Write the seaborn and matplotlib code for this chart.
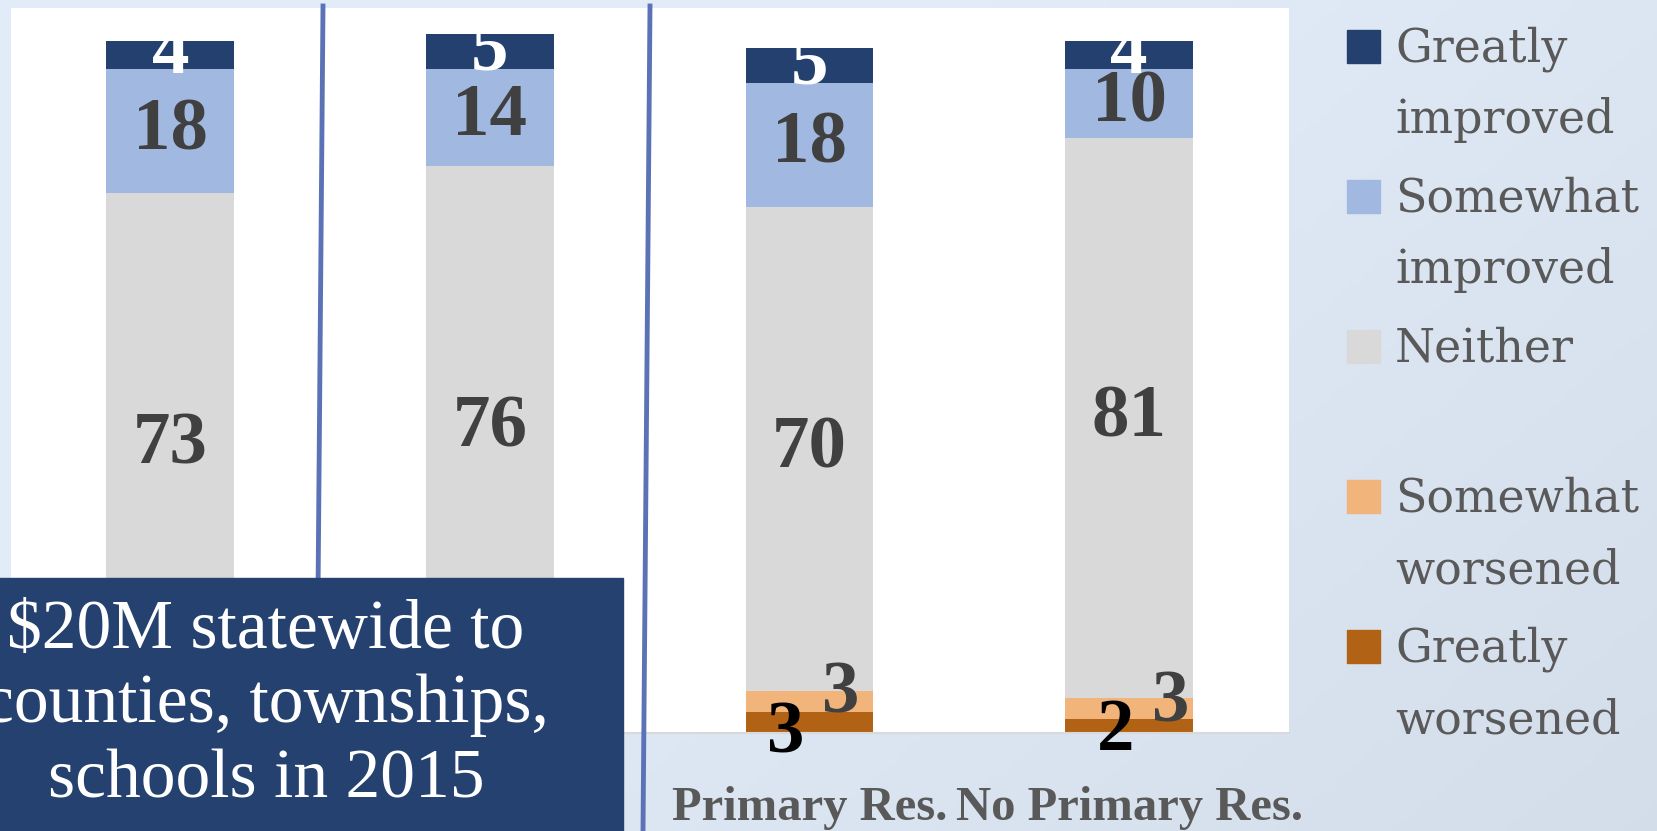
import numpy as np
import matplotlib.pyplot as plt
import matplotlib.colors as mcolors
from matplotlib.patches import Rectangle
from matplotlib.lines import Line2D
import pandas as pd
import seaborn as sns

# data
groups = ["Group 1", "Group 2", "Primary Res.", "No Primary Res."]
tick_labels = ["", "", "Primary Res.", "No Primary Res."]
series = ["Greatly worsened", "Somewhat worsened", "Neither", "Somewhat improved", "Greatly improved"]
greatly_worsened = [2, 3, 3, 2]
somewhat_worsened = [3, 3, 3, 3]
neither = [73, 76, 70, 81]
somewhat_improved = [18, 14, 18, 10]
greatly_improved = [4, 5, 5, 4]
legend_lines = [("Greatly", "improved"), ("Somewhat", "improved"), ("Neither", ""),
                ("Somewhat", "worsened"), ("Greatly", "worsened")]
box_lines = ["$20M statewide to", "counties, townships,", "schools in 2015"]

colors = {"Greatly improved": "#23406f", "Somewhat improved": "#a1b9e1", "Neither": "#d9d9d9",
          "Somewhat worsened": "#f1b57b", "Greatly worsened": "#b16214"}
label_colors = {"Greatly improved": "white", "Somewhat improved": "#404040", "Neither": "#404040",
                "Somewhat worsened": "#404040", "Greatly worsened": "black"}

df = pd.DataFrame({"group": groups, "Greatly worsened": greatly_worsened,
                   "Somewhat worsened": somewhat_worsened, "Neither": neither,
                   "Somewhat improved": somewhat_improved, "Greatly improved": greatly_improved})

W, H = 1657, 831
def fx(x):
    return x / W
def fy(y):
    return 1 - y / H

fig = plt.figure(figsize=(W / 100, H / 100), dpi=100)
fig.patch.set_facecolor("#e1ebf7")

# slide-like background gradient
bg = fig.add_axes([0, 0, 1, 1], zorder=-10)
gx, gy = np.meshgrid(np.linspace(0, 1, 300), np.linspace(0, 1, 150))
t = np.clip(0.75 * gx + 0.45 * gy - 0.45, 0, 1)
c0 = np.array(mcolors.to_rgb("#e2ecf8"))
c1 = np.array(mcolors.to_rgb("#cfd8e5"))
img = c0[None, None, :] * (1 - t[..., None]) + c1[None, None, :] * t[..., None]
bg.imshow(img, extent=[0, 1, 0, 1], aspect="auto", origin="upper")
bg.axis("off")

ax = fig.add_axes([fx(10.5), fy(733), fx(1289 - 10.5), (733 - 8) / H])
ax.set_facecolor("white")

bottom = np.zeros(len(groups))
mids = {}
for s in series:
    sns.barplot(data=df, x="group", y=s, color=colors[s], width=0.4, bottom=bottom,
                saturation=1, errorbar=None, linewidth=0, ax=ax)
    mids[s] = bottom + df[s].values / 2
    bottom = bottom + df[s].values

ax.set_xlim(-0.5, 3.5)
ax.set_ylim(0, 104.8)
ax.set_xlabel("")
ax.set_ylabel("")
ax.set_yticks([])
ax.set_xticks(range(len(groups)))
ax.set_xticklabels(tick_labels, fontfamily="Liberation Serif", fontweight="bold",
                   fontsize=35, color="#595959")
ax.tick_params(axis="x", length=0, pad=38)
for sp in ["top", "left", "right"]:
    ax.spines[sp].set_visible(False)
ax.spines["bottom"].set_color("#d9d9d9")
ax.spines["bottom"].set_linewidth(1.5)

lab_kw = dict(ha="center", va="center", fontfamily="Liberation Serif", fontweight="bold",
              fontsize=54, clip_on=False)
for s in ["Neither", "Somewhat improved", "Greatly improved"]:
    for i, v in enumerate(df[s]):
        ax.text(i, mids[s][i], str(v), color=label_colors[s], **lab_kw)

# small worsened segments: labels pushed beside the bars (first two bars sit under the box)
worse_dx = {"Greatly worsened": [-0.075, -0.041], "Somewhat worsened": [0.097, 0.131]}
worse_dy = {"Greatly worsened": [-1.65, -0.85], "Somewhat worsened": [1.1, 0.7]}
for s in ["Greatly worsened", "Somewhat worsened"]:
    for k, i in enumerate([2, 3]):
        ax.text(i + worse_dx[s][k], mids[s][i] + worse_dy[s][k], str(df[s][i]),
                color=label_colors[s], **lab_kw)

# divider lines
for (x0, x1) in [(323, 316), (650, 643)]:
    fig.add_artist(Line2D([fx(x0), fx(x1)], [fy(6), fy(831)], color="#5b73b6", lw=3.5,
                          transform=fig.transFigure, zorder=5))

# legend drawn by hand so the swatch lines up with the first text line
for i, s in enumerate(series[::-1]):
    base = 62 + 150 * i
    fig.add_artist(Rectangle((fx(1347), fy(base + 1)), fx(33), 33 / H, color=colors[s],
                             transform=fig.transFigure, zorder=6))
    first, second = legend_lines[i]
    fig.text(fx(1395), fy(base), first, fontfamily="DejaVu Serif", fontsize=33,
             color="#595959", va="baseline", ha="left")
    if second:
        fig.text(fx(1395), fy(base + 71), second, fontfamily="DejaVu Serif", fontsize=33,
                 color="#595959", va="baseline", ha="left")

# annotation box
fig.add_artist(Rectangle((fx(-100), 0), fx(723), (831 - 578) / H, color="#24416f",
                         transform=fig.transFigure, zorder=10))
for k, line in enumerate(box_lines):
    fig.text(fx(266), fy([648, 722, 798][k]), line, fontfamily="Liberation Serif", fontsize=50,
             color="white", ha="center", va="baseline", zorder=11)

plt.savefig("out.png", dpi=100)
